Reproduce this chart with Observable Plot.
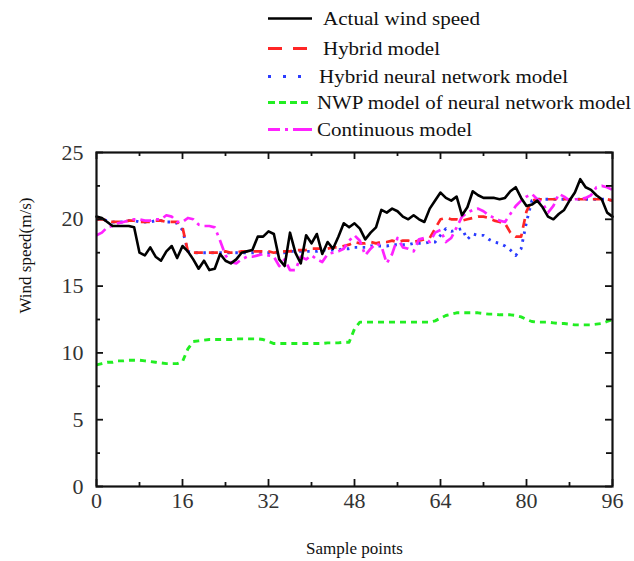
<!DOCTYPE html>
<html><head><meta charset="utf-8">
<script src="https://cdn.jsdelivr.net/npm/d3@7"></script>
<script src="https://cdn.jsdelivr.net/npm/@observablehq/plot@0.6"></script>
<style>
body{margin:0;background:#fff;}
#chart svg{display:block;}
</style></head><body><div id="chart"></div>
<script>
// ---------- data ----------
const seriesNames = ["Actual wind speed","Hybrid model","Hybrid neural network model","NWP model of neural network model","Continuous model"];
const xTicks = [0,16,32,48,64,80,96];
const xMinorTicks = [8,24,40,56,72,88];
const yTicks = [0,5,10,15,20,25];
const yMinorTicks = [2.5,7.5,12.5,17.5,22.5];
const xLabel = "Sample points";
const yLabel = "Wind speed(m/s)";

const actual = [
 20.2,20.1,19.8,19.5,19.5,19.5,19.5,19.4,17.5,17.3,
 17.9,17.2,16.9,17.6,18.0,17.1,18.0,17.6,17.0,16.3,
 16.9,16.2,16.3,17.4,16.9,16.7,17.0,17.5,17.6,17.7,
 18.7,18.7,19.1,18.9,17.0,16.5,19.0,17.5,16.7,18.8,
 18.2,18.9,17.4,18.3,17.8,18.7,19.7,19.4,19.7,19.3,
 18.5,19.0,19.4,20.7,20.5,20.8,20.6,20.2,20.0,20.3,
 20.0,19.8,20.8,21.4,22.0,21.6,21.4,21.7,20.3,20.9,
 22.1,21.8,21.6,21.6,21.6,21.5,21.6,22.1,22.4,21.6,
 21.0,21.1,21.4,20.9,20.2,20.0,20.4,20.7,21.4,22.0,
 23.0,22.4,22.2,21.8,21.5,20.5,20.2];
const hybrid = [
 20.0,20.0,19.9,19.8,19.8,19.8,19.9,19.9,19.8,19.8,
 19.8,19.9,19.9,19.8,19.8,19.8,19.4,17.6,17.5,17.5,
 17.5,17.5,17.5,17.5,17.6,17.5,17.5,17.6,17.6,17.6,
 17.6,17.6,17.6,17.5,17.6,17.6,17.6,17.7,17.7,17.7,
 17.8,17.8,17.8,17.8,17.9,17.9,18.0,18.1,18.3,18.2,
 18.2,18.3,18.2,18.3,18.3,18.4,18.3,18.4,18.4,18.3,
 18.4,18.5,18.6,19.3,20.0,20.1,20.0,20.0,19.9,20.0,
 20.1,20.2,20.2,20.1,19.9,19.8,19.7,19.0,18.7,18.7,
 20.6,21.4,21.5,21.5,21.5,21.5,21.5,21.5,21.5,21.5,
 21.5,21.5,21.5,21.5,21.5,21.5,21.4];
const hybridNN = [
 20.0,20.0,19.9,19.8,19.8,19.8,19.9,19.9,19.8,19.8,
 19.8,19.9,19.9,19.8,19.8,19.7,19.2,17.6,17.5,17.5,
 17.5,17.5,17.5,17.5,17.5,17.5,17.5,17.5,17.5,17.5,
 17.5,17.5,17.5,17.5,17.5,17.5,17.6,17.6,17.6,17.6,
 17.6,17.6,17.7,17.7,17.7,17.7,17.8,17.8,17.9,17.9,
 17.9,18.0,18.0,18.0,18.0,18.1,18.1,18.1,18.1,18.2,
 18.2,18.2,18.3,18.3,18.8,19.3,19.1,19.2,19.3,18.5,
 18.9,18.8,18.8,18.5,18.3,18.2,18.0,17.7,17.3,17.8,
 19.8,21.4,21.5,21.5,21.5,21.5,21.5,21.5,21.5,21.5,
 21.5,21.5,21.5,21.5,21.5,21.5,21.4];
const nwpNN = [
 9.1,9.2,9.3,9.3,9.4,9.4,9.45,9.45,9.45,9.4,
 9.35,9.3,9.25,9.2,9.2,9.2,9.35,10.3,10.85,10.9,
 10.95,11.0,11.0,11.0,11.0,11.0,11.05,11.05,11.05,11.05,
 11.05,11.0,10.85,10.7,10.7,10.7,10.7,10.7,10.7,10.7,
 10.7,10.7,10.7,10.75,10.75,10.75,10.8,10.8,11.8,12.3,
 12.3,12.3,12.3,12.3,12.3,12.3,12.3,12.3,12.3,12.3,
 12.3,12.3,12.3,12.4,12.6,12.8,12.9,13.0,13.0,13.0,
 13.0,13.0,12.95,12.9,12.9,12.85,12.85,12.85,12.8,12.7,
 12.5,12.35,12.3,12.3,12.3,12.25,12.2,12.2,12.15,12.1,
 12.1,12.1,12.1,12.15,12.2,12.35,12.5];
const continuous = [
 18.8,19.0,19.4,19.5,19.7,19.8,19.9,20.0,20.0,19.9,
 19.9,20.0,20.0,20.3,20.2,19.8,19.8,20.1,20.0,19.6,
 19.5,19.5,19.4,18.4,17.3,16.8,16.7,17.0,17.2,17.2,
 17.3,17.4,17.3,17.2,16.5,17.0,16.2,16.2,17.2,17.0,
 17.3,17.0,16.8,17.4,17.5,17.6,17.8,18.4,18.8,18.4,
 17.3,17.8,18.2,18.0,16.7,17.4,18.6,17.9,17.8,17.6,
 18.5,18.6,18.3,19.0,19.2,18.3,18.6,19.4,20.2,20.5,
 20.7,20.8,20.6,20.3,20.1,19.9,19.8,20.4,21.0,21.4,
 21.7,21.9,21.5,21.2,20.5,21.0,21.9,21.7,21.4,21.5,
 21.5,21.6,21.8,22.4,22.5,22.4,22.2];

// ---------- styles ----------
const styles = [
  {stroke:"#000000", dash:null,        width:2.6, legendDash:null},
  {stroke:"#ff2626", dash:"9,6",       width:2.7, legendDash:"14,11"},
  {stroke:"#2b3cff", dash:"2.5,5.5",   width:2.9, legendDash:"3,12"},
  {stroke:"#22ee22", dash:"6,5",       width:2.9, legendDash:"7,4"},
  {stroke:"#ff22ff", dash:"11,5,3,5",  width:2.7, legendDash:"12,5,3,5,20"}
];
const seriesValues = [actual, hybrid, hybridNN, nwpNN, continuous];
const drawOrder = [3, 2, 1, 4, 0];

const FONT = "'Liberation Serif', 'DejaVu Serif', serif";
const chart = document.getElementById("chart");

// ---------- legend (HTML/SVG above the plot) ----------
const legendLayout = [
  {lineY:18.5, base:25, tx:323, tw:157},
  {lineY:48.5, base:55, tx:323, tw:117},
  {lineY:76.5, base:83, tx:319, tw:249},
  {lineY:102.5, base:109, tx:317, tw:314},
  {lineY:129.5, base:136, tx:317, tw:155}
];
const legend = d3.create("svg").attr("width", 634).attr("height", 140)
  .style("display","block").style("font-family", FONT);
seriesNames.forEach((name, k) => {
  const L = legendLayout[k], s = styles[k];
  legend.append("line").attr("x1", 268).attr("x2", 312)
    .attr("y1", L.lineY).attr("y2", L.lineY)
    .attr("stroke", s.stroke).attr("stroke-width", k === 0 ? 2.6 : 3)
    .attr("stroke-dasharray", s.legendDash);
  legend.append("text").attr("x", L.tx).attr("y", L.base)
    .attr("font-size", 19).attr("fill", "#111")
    .attr("textLength", L.tw).attr("lengthAdjust", "spacingAndGlyphs")
    .text(name);
});
legend.append("line").attr("x1", 262).attr("x2", 612).attr("y1", 147.5).attr("y2", 147.5)
  .attr("stroke", "#e4e4e4").attr("stroke-width", 1);
chart.appendChild(legend.node());

// ---------- plot ----------
const W = 634, H = 421, mL = 96, mR = 22, mT = 12, mB = 75;
const fw = W - mL - mR, fh = H - mT - mB;

const lineMarks = drawOrder.map(k => Plot.line(seriesValues[k], {
  x: (d, i) => i, y: d => d,
  stroke: styles[k].stroke, strokeWidth: styles[k].width,
  strokeDasharray: styles[k].dash, strokeLinejoin: "round", strokeLinecap: styles[k].dash ? "butt" : "round"
}));

const plot = Plot.plot({
  width: W, height: H,
  marginLeft: mL, marginRight: mR, marginTop: mT, marginBottom: mB,
  style: {fontFamily: FONT, background: "#fff", overflow: "visible"},
  x: {domain: [0, 96]},
  y: {domain: [0, 25]},
  marks: [
    Plot.axisX({ticks: xTicks, tickSize: 0, tickPadding: 6, fontSize: 22, label: null, fill: "#333"}),
    Plot.axisY({ticks: yTicks, tickSize: 0, tickPadding: 13, fontSize: 22, label: null, fill: "#333"}),
    ...lineMarks,
    // inward ticks: bottom / top
    Plot.ruleX(xTicks, {x: d => d, insetTop: fh - 7, stroke: "#111", strokeWidth: 1.8}),
    Plot.ruleX(xMinorTicks, {x: d => d, insetTop: fh - 4, stroke: "#111", strokeWidth: 1.8}),
    Plot.ruleX(xTicks, {x: d => d, insetBottom: fh - 7, stroke: "#111", strokeWidth: 1.8}),
    Plot.ruleX(xMinorTicks, {x: d => d, insetBottom: fh - 4, stroke: "#111", strokeWidth: 1.8}),
    // inward ticks: left / right
    Plot.ruleY(yTicks, {y: d => d, insetRight: fw - 7, stroke: "#111", strokeWidth: 1.8}),
    Plot.ruleY(yMinorTicks, {y: d => d, insetRight: fw - 4, stroke: "#111", strokeWidth: 1.8}),
    Plot.ruleY(yTicks, {y: d => d, insetLeft: fw - 7, stroke: "#111", strokeWidth: 1.8}),
    Plot.ruleY(yMinorTicks, {y: d => d, insetLeft: fw - 6, stroke: "#111", strokeWidth: 1.8}),
    Plot.frame({stroke: "#111", strokeWidth: 2.2}),
    Plot.text([xLabel], {frameAnchor: "bottom", dy: 62, fontSize: 17, fill: "#111", lineAnchor: "middle", text: d => d}),
    Plot.text([yLabel], {frameAnchor: "left", dx: -71, dy: -6, rotate: -90, fontSize: 17, fill: "#111", lineAnchor: "middle", text: d => d})
  ]
});
chart.appendChild(plot);
</script>
</body></html>
